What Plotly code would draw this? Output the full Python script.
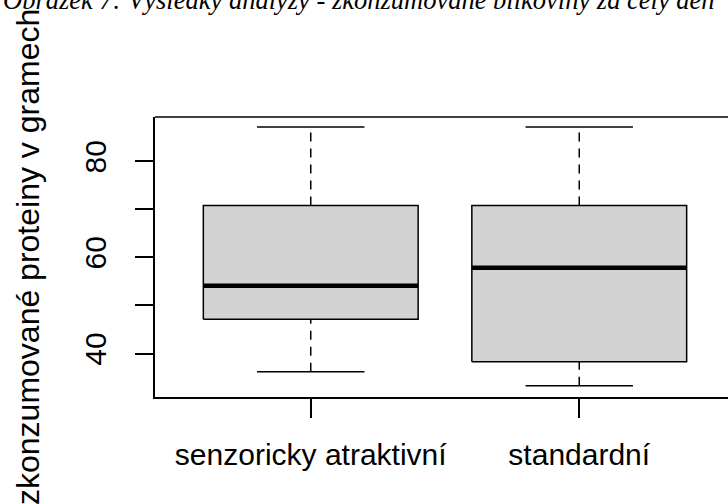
import plotly.graph_objects as go

categories = ["senzoricky atraktivní", "standardní"]
lower_whisker = [36.2, 33.3]
q1 = [47.1, 38.3]
median = [54.1, 57.85]
q3 = [70.8, 70.8]
upper_whisker = [87.1, 87.1]

y_tick_values = [40, 50, 60, 70, 80]
y_tick_labels = ["40", "", "60", "", "80"]

title_text = "Obrázek 7: Výsledky analýzy - zkonzumované bílkoviny za celý den"
y_title = "zkonzumované proteiny v gramech"

BOX_HALF = 0.4
CAP_HALF = 0.2
LINE = dict(color="black", width=1.5)

fig = go.Figure()
for i, cat in enumerate(categories):
    x = i + 1
    # whiskers (dashed)
    fig.add_trace(go.Scatter(x=[x, x], y=[q3[i], upper_whisker[i]], mode="lines",
                             line=dict(color="black", width=1.5, dash="9px,7px"),
                             hoverinfo="skip", showlegend=False))
    fig.add_trace(go.Scatter(x=[x, x], y=[lower_whisker[i], q1[i]], mode="lines",
                             line=dict(color="black", width=1.5, dash="9px,7px"),
                             hoverinfo="skip", showlegend=False))
    # caps
    fig.add_trace(go.Scatter(x=[x - CAP_HALF, x + CAP_HALF], y=[upper_whisker[i]] * 2, mode="lines",
                             line=LINE, hoverinfo="skip", showlegend=False))
    fig.add_trace(go.Scatter(x=[x - CAP_HALF, x + CAP_HALF], y=[lower_whisker[i]] * 2, mode="lines",
                             line=LINE, hoverinfo="skip", showlegend=False))
    # box
    fig.add_trace(go.Scatter(x=[x - BOX_HALF, x + BOX_HALF, x + BOX_HALF, x - BOX_HALF, x - BOX_HALF],
                             y=[q1[i], q1[i], q3[i], q3[i], q1[i]], mode="lines",
                             fill="toself", fillcolor="#D3D3D3", line=LINE,
                             name=cat, showlegend=False))
    # median
    fig.add_trace(go.Scatter(x=[x - BOX_HALF, x + BOX_HALF], y=[median[i]] * 2, mode="lines",
                             line=dict(color="black", width=4.5), hoverinfo="skip", showlegend=False))

W, H = 728, 504
ML, MR, MT, MB = 155, 0, 117, 107
PW = W - ML - MR
PH = H - MT - MB

fig.update_layout(
    width=W, height=H,
    margin=dict(l=ML, r=MR, t=MT, b=MB, pad=0),
    paper_bgcolor="white", plot_bgcolor="white",
    font=dict(family="Liberation Sans, Arial, sans-serif", color="black", size=30),
    xaxis=dict(range=[0.42, 2.554], tickvals=[1, 2], ticktext=categories,
               showgrid=False, zeroline=False, showline=True, linecolor="black", linewidth=1.5,
               ticks="outside", ticklen=19, tickwidth=1.5, tickcolor="black",
               ticklabelstandoff=11, tickfont=dict(size=30)),
    yaxis=dict(range=[30.95, 89.2], tickvals=y_tick_values, ticktext=y_tick_labels,
               showgrid=False, zeroline=False, showline=True, linecolor="black", linewidth=1.5,
               ticks="outside", ticklen=18, tickwidth=1.5, tickcolor="black",
               tickangle=-90, ticklabelstandoff=17, tickfont=dict(size=30)),
    shapes=[dict(type="line", xref="paper", yref="paper", x0=0, x1=1, y0=1, y1=1,
                 line=dict(color="black", width=1.5))],
    annotations=[
        dict(text=y_title, xref="paper", yref="paper", x=(28 - ML) / PW, y=0.5,
             xanchor="center", yanchor="middle", textangle=-90, showarrow=False,
             font=dict(size=32, family="Liberation Sans, Arial, sans-serif")),
        dict(text=title_text, xref="paper", yref="paper", x=(1 - ML) / PW, y=1 + (MT - 17) / PH,
             xanchor="left", yanchor="bottom", showarrow=False,
             font=dict(size=26.5, family="Liberation Serif, Times New Roman, serif", style="italic")),
    ],
)

fig.write_html("out.html", config={"displayModeBar": False},
               post_script="document.body.style.margin='0';document.body.style.overflow='hidden';")
